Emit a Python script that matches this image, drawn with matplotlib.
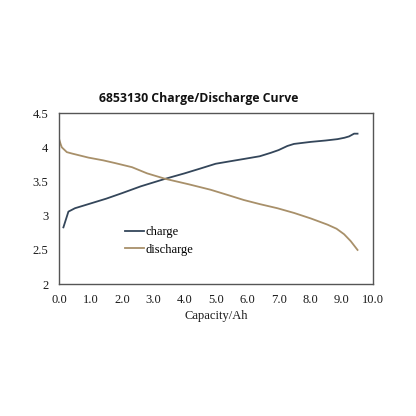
import numpy as np
import matplotlib
matplotlib.use('Agg')
import matplotlib.pyplot as plt

# values
charge_x = [0.13, 0.29, 0.50, 0.93, 1.50, 2.00, 2.60, 3.38, 4.00, 4.50, 4.99, 5.50,
            5.89, 6.40, 6.75, 7.00, 7.28, 7.49, 8.03, 8.50, 8.88, 9.10, 9.25, 9.41, 9.52]
charge_y = [2.83, 3.06, 3.11, 3.17, 3.25, 3.33, 3.43, 3.54, 3.62, 3.69, 3.76, 3.80,
            3.83, 3.87, 3.92, 3.96, 4.02, 4.05, 4.08, 4.10, 4.12, 4.14, 4.16, 4.20, 4.20]

discharge_x = [0.0, 0.04, 0.08, 0.24, 0.40, 0.93, 1.40, 1.78, 2.32, 2.80, 3.38, 4.13,
               4.83, 5.40, 5.89, 6.40, 6.96, 7.50, 8.03, 8.56, 8.85, 9.09, 9.30, 9.52]
discharge_y = [4.11, 4.05, 4.00, 3.93, 3.91, 3.85, 3.81, 3.77, 3.71, 3.62, 3.54, 3.46,
               3.38, 3.30, 3.23, 3.17, 3.11, 3.04, 2.96, 2.87, 2.81, 2.73, 2.63, 2.50]

xticks = np.arange(0, 10.5, 1.0)
yticks = [2, 2.5, 3, 3.5, 4, 4.5]
ylabels = ['2', '2.5', '3', '3.5', '4', '4.5']

fig = plt.figure(figsize=(4.16, 4.16), dpi=100)
ax = fig.add_axes([0.1426, 0.317, 0.753, 0.411])

ax.plot(charge_x, charge_y, color='#34465a', lw=1.3, label='charge')
ax.plot(discharge_x, discharge_y, color='#a8906a', lw=1.3, label='discharge')

ax.set_xlim(0, 10)
ax.set_ylim(2, 4.5)
ax.set_xticks(xticks)
ax.set_xticklabels(['%.1f' % t for t in xticks])
ax.set_yticks(yticks)
ax.set_yticklabels(ylabels)
ax.tick_params(length=0, labelsize=9)
ax.tick_params(axis='x', pad=7)
ax.tick_params(axis='y', pad=8)
for lab in ax.get_xticklabels() + ax.get_yticklabels():
    lab.set_family('Liberation Serif')
    lab.set_color('#1a1a1a')
for s in ax.spines.values():
    s.set_color('#555555')
    s.set_linewidth(1.0)

ax.set_xlabel('Capacity/Ah', family='Liberation Serif', fontsize=9,
              color='#1a1a1a', labelpad=3)

leg = ax.legend(loc='upper left', bbox_to_anchor=(0.175, 0.405), frameon=False,
                handlelength=1.5, handletextpad=0.1, labelspacing=0.45,
                prop={'family': 'Liberation Serif', 'size': 9})

fig.text(0.478, 0.764, '6853130 Charge/Discharge Curve', ha='center', va='center',
         fontsize=8.8, fontweight='bold', family='Open Sans', color='#111111')

fig.savefig('out.png', dpi=100)
